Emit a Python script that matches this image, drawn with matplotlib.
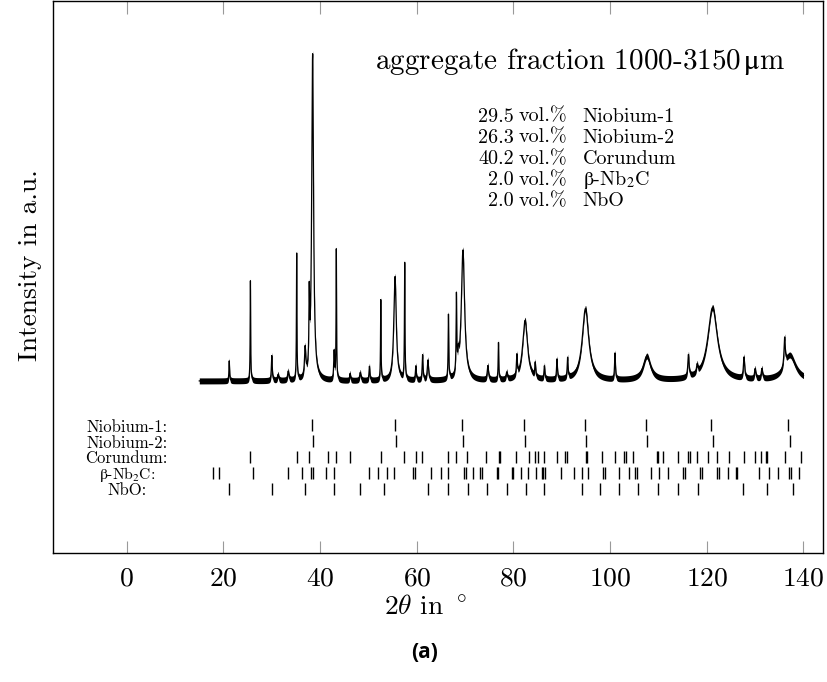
import numpy as np
import matplotlib
matplotlib.use("Agg")
import matplotlib.pyplot as plt

plt.rcParams['font.family'] = ['cmr10', 'DejaVu Serif']
plt.rcParams['mathtext.fontset'] = 'cm'
plt.rcParams['axes.formatter.use_mathtext'] = True

# ---------------- data ----------------
# measured pattern: peak list (2theta, height a.u., FWHM)
peak_pos = [21.2, 25.58, 30.0, 31.3, 33.4, 35.15, 36.9, 37.75, 38.45, 42.9, 43.35,
            46.2, 48.3, 50.2, 52.55, 55.5, 57.5, 59.8, 61.2, 62.3, 66.55, 68.2,
            68.6, 69.55, 74.7, 76.9, 78.6, 80.7, 82.4, 84.5, 86.4, 89.0, 91.2,
            94.9, 101.0, 107.6, 116.2, 118.0, 121.2, 127.7, 130.0, 131.4, 136.1, 137.2]
peak_height = [20, 100, 25, 6, 9, 126, 28, 68, 326, 28, 130,
               7, 8, 14, 80, 104, 116, 14, 25, 20, 64, 76,
               15, 130, 14, 37, 7, 20, 60, 14, 13, 20, 20,
               72, 26, 24, 22, 8, 73, 21, 10, 10, 28, 25]
peak_fwhm = [0.15, 0.12, 0.2, 0.3, 0.3, 0.12, 0.3, 0.15, 0.45, 0.2, 0.12,
             0.2, 0.3, 0.2, 0.12, 0.6, 0.13, 0.2, 0.2, 0.3, 0.15, 0.15,
             0.3, 0.8, 0.3, 0.15, 0.3, 0.2, 1.2, 0.2, 0.2, 0.2, 0.2,
             1.6, 0.2, 1.8, 0.3, 0.3, 2.4, 0.3, 0.3, 0.3, 0.3, 2.8]
two_theta_start, two_theta_end = 15.0, 140.0

# reference reflections
niobium1 = [38.4, 55.4, 69.4, 82.2, 94.7, 107.4, 120.9, 136.9]
niobium2 = [38.6, 55.6, 69.6, 82.4, 95.0, 107.6, 121.2, 137.3]
corundum = [25.57, 35.17, 37.72, 41.59, 43.31, 46.27, 52.55, 57.45, 59.8, 61.16,
            66.54, 68.2, 70.47, 74.34, 76.97, 77.18, 80.55, 83.24, 84.42, 85.1,
            86.4, 89.03, 90.75, 91.1, 94.97, 95.18, 98.4, 101.1, 102.9, 103.3,
            104.7, 109.7, 110.0, 110.9, 114.1, 116.1, 116.5, 117.9, 120.3, 122.1,
            124.6, 127.7, 130.0, 131.2, 132.3, 132.5, 136.1, 139.5]
nb2c = [17.92, 19.1, 26.2, 33.3, 36.2, 38.07, 38.6, 41.24, 42.9, 50.1, 51.9, 53.9,
        55.3, 59.3, 59.6, 62.9, 65.0, 66.55, 69.8, 70.1, 71.7, 73.1, 73.4, 76.5,
        76.8, 79.7, 80.0, 81.5, 83.1, 84.7, 85.9, 86.2, 86.5, 89.9, 92.6, 94.2,
        95.4, 98.6, 98.9, 101.85, 103.9, 105.2, 105.5, 108.4, 110.1, 111.9, 115.0,
        115.5, 118.6, 119.0, 122.2, 122.6, 124.4, 126.1, 126.3, 130.8, 132.8,
        134.7, 137.1, 137.5, 139.0]
nbo = [21.17, 30.0, 36.9, 42.9, 48.3, 53.2, 62.3, 66.5, 70.6, 74.6, 78.6, 82.5,
       86.3, 94.1, 97.8, 101.8, 105.7, 109.9, 114.0, 118.2, 127.4, 132.4, 137.8]

phase_labels = ['Niobium-1:', 'Niobium-2:', 'Corundum:', r'$\mathrm{\beta}$-Nb$_2$C:', 'NbO:']
phase_rows = [niobium1, niobium2, corundum, nb2c, nbo]
fractions = ['29.5', '26.3', '40.2', '2.0', '2.0']
fraction_names = ['Niobium-1', 'Niobium-2', 'Corundum', r'$\mathrm{\beta}$-Nb$_2$C', 'NbO']
title_text = r'aggregate fraction 1000-3150$\,\mathrm{\mu}$m'

# ---------------- profile ----------------
x = np.union1d(np.arange(two_theta_start, two_theta_end + 1e-9, 0.02), peak_pos)
y = np.zeros_like(x)
for p, h, w in zip(peak_pos, peak_height, peak_fwhm):
    y += h / (1.0 + (2.0 * (x - p) / w) ** 2)

W, H = 828, 682
fig = plt.figure(figsize=(W / 100, H / 100), dpi=100)
ax = fig.add_axes([53.3 / W, 1 - 553.3 / H, (823.3 - 53.3) / W, (553.3 - 1) / H])
ax.set_xlim(-15.2, 144.1)
ax.set_ylim(-172.3, 380)

ax.fill_between(x, y - 3.0, y + 3.0, color='black', lw=0)
ax.plot(x, y, color='black', lw=0.9)

row_centers = [-44, -60, -76, -92, -108]
label_base = [-50.7, -66.7, -82.3, -98, -114]
label_sizes = [12, 12, 12, 11.3, 12]
for lab, rows, yc, yb, fs in zip(phase_labels, phase_rows, row_centers, label_base, label_sizes):
    ax.vlines(rows, yc - 6, yc + 6, color='black', lw=1.0)
    ax.text(0, yb, lab, ha='center', va='baseline', fontsize=fs, math_fontfamily='stix')

ax.text(136.2, 311.7, title_text, ha='right', va='baseline', fontsize=21,
        math_fontfamily='stix')
frac_base = [259.3, 238.3, 217, 196, 175]
for f, n, yb in zip(fractions, fraction_names, frac_base):
    ax.text(80.1, yb, f, ha='right', va='baseline', fontsize=14.5)
    ax.text(81.0, yb, 'vol.%', ha='left', va='baseline', fontsize=14.5)
    ax.text(94.35, yb, n, ha='left', va='baseline', fontsize=14.5, math_fontfamily='stix')

ax.set_xticks([0, 20, 40, 60, 80, 100, 120, 140])
ax.set_yticks([])
ax.tick_params(axis='x', direction='in', top=True, length=9, width=0.8,
               color='#999999', labelsize=19.8, pad=10)
for s in ax.spines.values():
    s.set_linewidth(1.0)

fig.text(425 / W, 1 - 607 / H, r'$2\theta$ in $^\circ$', ha='center', va='center', fontsize=19.8)
fig.text(30 / W, 1 - 265 / H, 'Intensity in a.u.', ha='center', va='center',
         rotation=90, fontsize=19.8)
fig.text(425 / W, 1 - 652 / H, '(a)', ha='center', va='center', fontsize=15,
         fontweight='bold', family='Open Sans')

fig.savefig('out.png', dpi=100)
